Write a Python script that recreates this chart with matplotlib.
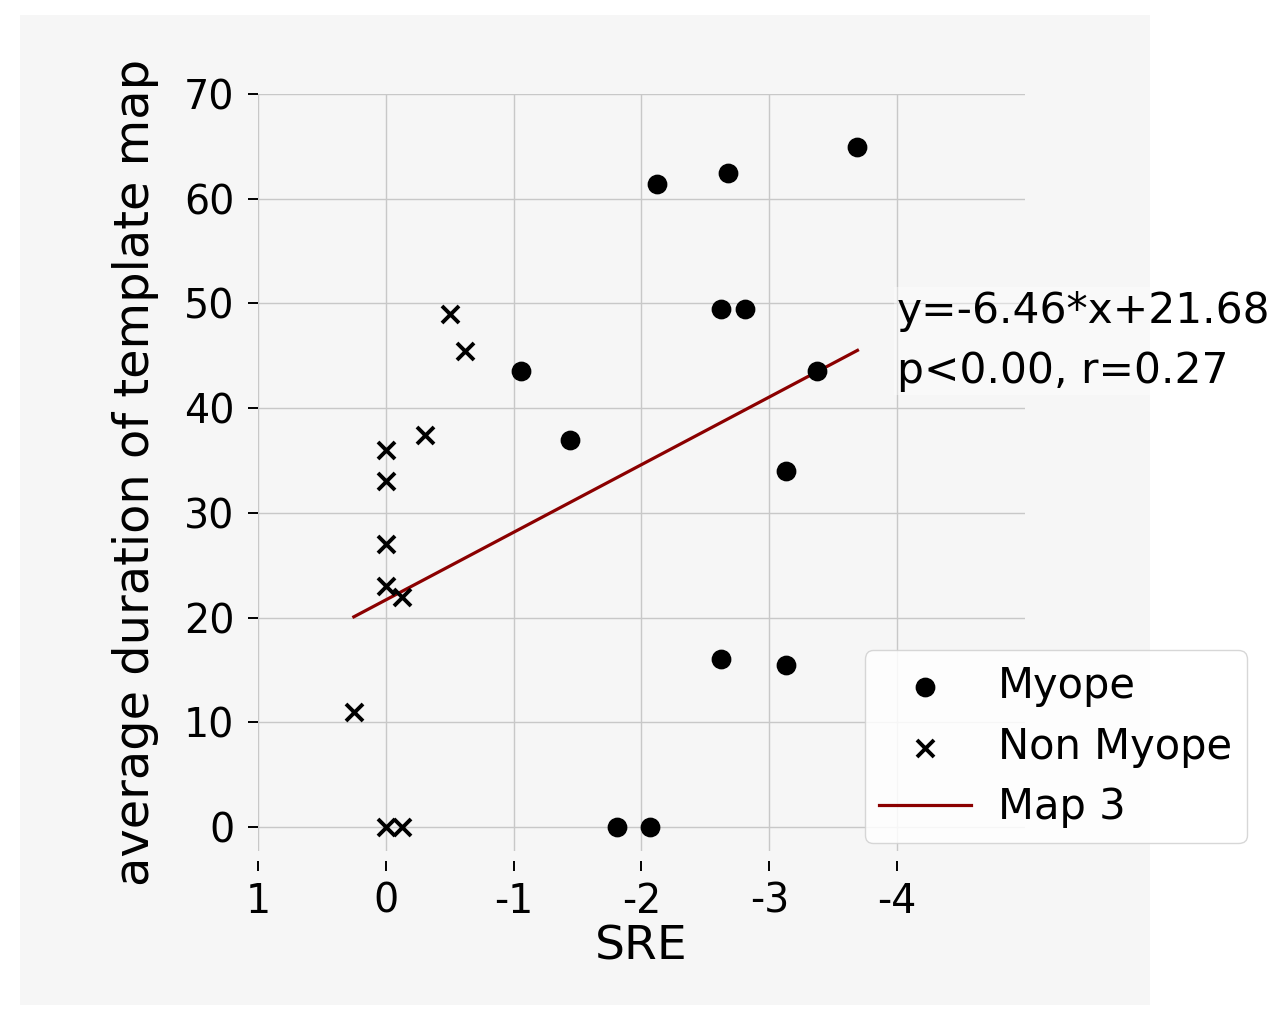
import numpy as np
import matplotlib
matplotlib.use("Agg")
import matplotlib.pyplot as plt
from matplotlib.patches import Rectangle

# Myope subjects: SRE vs average duration of template map
myope_sre = [-2.12, -2.68, -3.69, -2.62, -2.81, -1.06, -3.37, -1.44, -3.13, -2.62, -3.13, -1.81, -2.07]
myope_dur = [61.4, 62.5, 64.9, 49.5, 49.5, 43.5, 43.5, 37.0, 34.0, 16.0, 15.5, 0.0, 0.0]

# Non myope subjects
non_myope_sre = [-0.50, -0.62, -0.31, 0.0, 0.0, 0.0, 0.0, -0.13, 0.25, 0.0, -0.13]
non_myope_dur = [49.0, 45.5, 37.4, 36.0, 33.0, 27.0, 23.0, 22.0, 11.0, 0.0, 0.0]

# regression shown in the figure
slope = -6.46
intercept = 21.68
p_text = "p<0.00, r=0.27"

x_ticks = [1, 0, -1, -2, -3, -4]
y_ticks = [0, 10, 20, 30, 40, 50, 60, 70]

BG = "#f6f6f6"


def main():
    fig = plt.figure(figsize=(12.77, 10.09), dpi=100, facecolor="white")
    # grey figure area (text and legend spill out of it on the right)
    fig.patches.append(Rectangle((0.0157, 0.004), 0.885, 0.981, transform=fig.transFigure,
                                 facecolor=BG, edgecolor="none", zorder=-10))

    ax = fig.add_axes([0.202, 0.1566, 0.6006, 0.7502])
    ax.set_facecolor(BG)

    ax.scatter(myope_sre, myope_dur, s=175, marker="o", color="black", label="Myope", zorder=3)
    ax.scatter(non_myope_sre, non_myope_dur, s=150, marker="x", color="black",
               linewidths=2.8, label="Non Myope", zorder=3)

    all_x = np.array(myope_sre + non_myope_sre)
    xs = np.array([all_x.max(), all_x.min()])
    ax.plot(xs, slope * xs + intercept, color="#8b0000", lw=2.3, label="Map 3", zorder=2)

    ax.text(-4.0, 51.3, "y=-6.46*x+21.68\n" + p_text, fontsize=30.5, va="top", ha="left",
            linespacing=1.55, bbox=dict(facecolor="white", alpha=0.4, edgecolor="none", pad=2))

    ax.set_xlim(1, -5)
    ax.set_ylim(-2.3, 70)
    ax.set_xticks(x_ticks)
    ax.set_yticks(y_ticks)
    ax.set_xticklabels([str(t) for t in x_ticks])

    ax.grid(True, color="#c8c8c8", lw=1)
    ax.set_axisbelow(True)
    for s in ax.spines.values():
        s.set_visible(False)
    ax.spines["bottom"].set_position(("outward", 7))

    ax.tick_params(axis="both", labelsize=28.5, length=7, width=1.4, color="black")
    ax.tick_params(axis="y", pad=10)
    ax.tick_params(axis="x", pad=8)

    ax.set_xlabel("SRE", fontsize=34, labelpad=2)
    ax.set_ylabel("average duration of template map", fontsize=34.5, labelpad=18)

    leg = ax.legend(loc="lower right", bbox_to_anchor=(1.289, 0.0106), borderaxespad=0,
                    fontsize=30, handlelength=2.2, handletextpad=0.65, labelspacing=0.45,
                    borderpad=0.35, frameon=True, fancybox=True, framealpha=0.85,
                    edgecolor="#d0d0d0")
    leg.get_frame().set_facecolor("white")

    fig.savefig("out.png", dpi=100, facecolor="white")


if __name__ == "__main__":
    main()
